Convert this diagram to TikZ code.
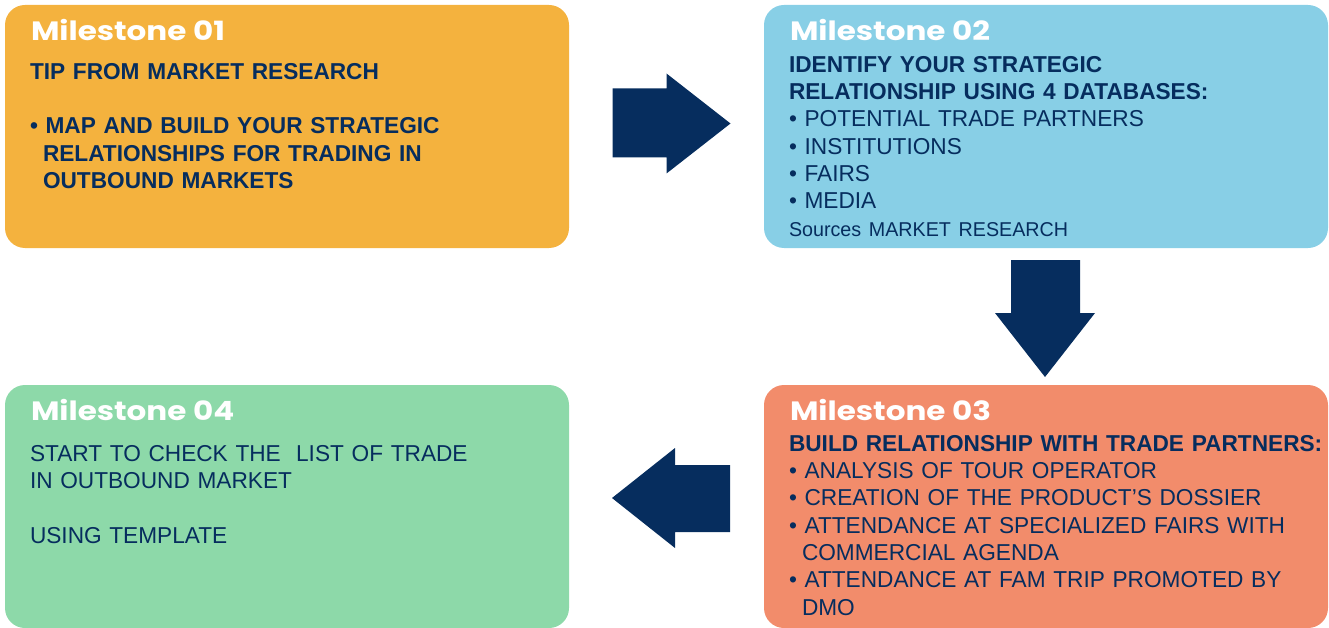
\documentclass[tikz,border=0pt]{standalone}
\usepackage{fontspec}
\setmainfont{Liberation Sans}[FakeStretch=0.985]
\newfontfamily\titlefont{Poppins}[FakeStretch=1.17]
\usetikzlibrary{calc}

\definecolor{msorange}{HTML}{F4B23E}
\definecolor{msblue}{HTML}{88CFE6}
\definecolor{mssalmon}{HTML}{F28C6B}
\definecolor{msgreen}{HTML}{8DD9A9}
\definecolor{msnavy}{HTML}{062D5E}

\begin{document}
\begin{tikzpicture}[x=1pt,y=-1pt,
  mbox/.style={rounded corners=20pt, minimum width=564pt, minimum height=243pt, inner sep=0pt},
  mtitle/.style={anchor=base west, inner sep=0pt, text=white, font=\titlefont\bfseries\fontsize{26.5}{30}\selectfont},
  mtext/.style={anchor=north west, inner sep=0pt, text=msnavy, text width=545pt, align=left, font=\fontsize{23}{27.3}\selectfont},
  blockarrow/.style={fill=msnavy}]
\useasboundingbox (0,0) rectangle (1329,628);

% milestone boxes
\node[mbox, fill=msorange] (m1) at (287,126.5) {};
\node[mbox, fill=msblue] (m2) at (1046,126.5) {};
\node[mbox, fill=mssalmon] (m3) at (1046,506.5) {};
\node[mbox, fill=msgreen] (m4) at (287,506.5) {};

\node[mtitle] (t1) at ([shift={(26,36)}]m1.north west) {Milestone 01};
\node[mtitle] (t2) at ([shift={(26,36)}]m2.north west) {Milestone 02};
\node[mtitle] (t3) at ([shift={(26,36)}]m3.north west) {Milestone 03};
\node[mtitle] (t4) at ([shift={(26,36)}]m4.north west) {Milestone 04};

\node[mtext] (b1) at ([shift={(25,58.2)}]m1.north west) {\bfseries TIP FROM MARKET RESEARCH\\[27.3pt]
  • MAP AND BUILD YOUR STRATEGIC\\
  \hspace*{13pt}RELATIONSHIPS FOR TRADING IN\\
  \hspace*{13pt}OUTBOUND MARKETS};
\node[mtext] (b2) at ([shift={(25,51.2)}]m2.north west) {{\bfseries IDENTIFY YOUR STRATEGIC\\
  RELATIONSHIP USING 4 DATABASES:}\\
  • POTENTIAL TRADE PARTNERS\\
  • INSTITUTIONS\\
  • FAIRS\\
  • MEDIA\\
  {\fontsize{20}{27.3}\selectfont Sources MARKET RESEARCH}};
\node[mtext] (b3) at ([shift={(25,50.2)}]m3.north west) {{\bfseries BUILD RELATIONSHIP WITH TRADE PARTNERS:}\\
  • ANALYSIS OF TOUR OPERATOR\\
  • CREATION OF THE PRODUCT’S DOSSIER\\
  • ATTENDANCE AT SPECIALIZED FAIRS WITH\\
  \hspace*{13pt}COMMERCIAL AGENDA\\
  • ATTENDANCE AT FAM TRIP PROMOTED BY\\
  \hspace*{13pt}DMO};
\node[mtext] (b4) at ([shift={(25,60.2)}]m4.north west) {START TO CHECK THE\ \ LIST OF TRADE\\
  IN OUTBOUND MARKET\\[27.3pt]
  USING TEMPLATE};

% arrows between the milestones
\coordinate (a12) at ($(m1.east)!0.5!(m2.west)$);
\coordinate (a23) at ($(m2.south)!0.5!(m3.north)$);
\coordinate (a34) at ($(m3.west)!0.5!(m4.east)$);
\fill[blockarrow, shift={(a12)}] (-54,-38) -- (0,-38) -- (0,-53) -- (64,-3) -- (0,47) -- (0,31) -- (-54,31) -- cycle;
\fill[blockarrow, shift={(a23)}] (-35,-56.5) -- (34,-56.5) -- (34,-3.5) -- (49,-3.5) -- (-1,60.5) -- (-51,-3.5) -- (-35,-3.5) -- cycle;
\fill[blockarrow, shift={(a34)}] (63.5,-41.5) -- (8.5,-41.5) -- (8.5,-58.5) -- (-54.5,-8.5) -- (8.5,41.5) -- (8.5,25.5) -- (63.5,25.5) -- cycle;
\end{tikzpicture}
\end{document}
